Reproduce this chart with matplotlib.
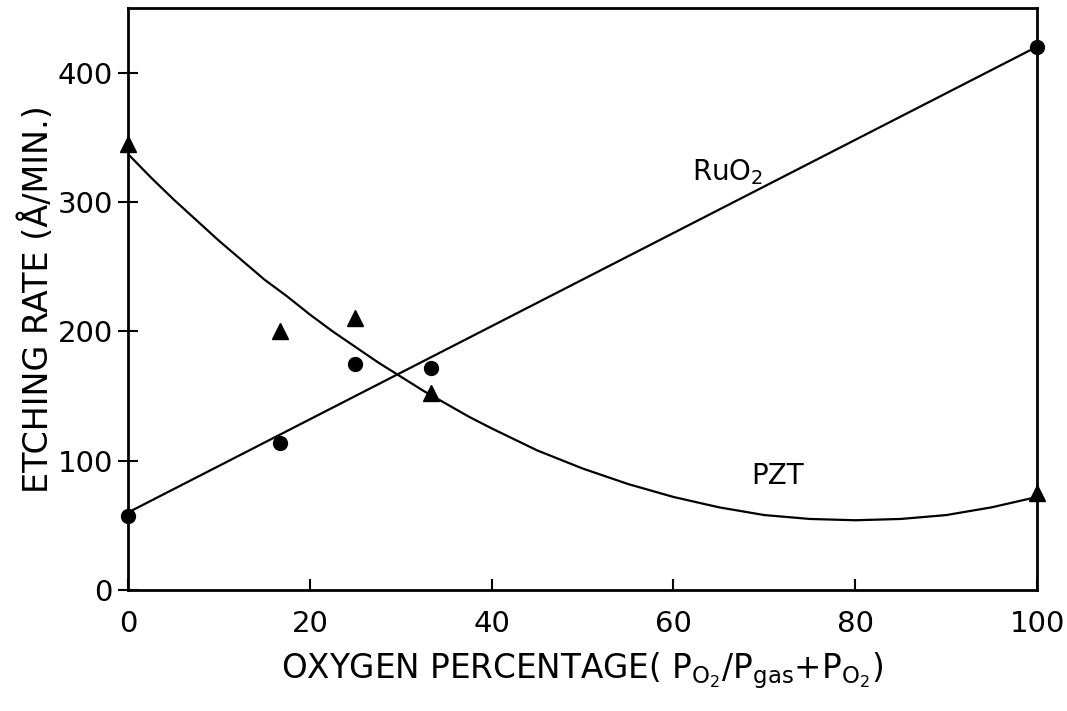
import matplotlib
matplotlib.use("Agg")
import matplotlib.pyplot as plt

# Data
oxygen_pct = [0, 16.7, 25, 33.3, 100]
ruo2_rate = [57, 114, 175, 172, 420]
pzt_rate = [345, 200, 210, 152, 75]

# RuO2 fitted straight line (endpoints)
ruo2_fit_x = [0, 100]
ruo2_fit_y = [60, 420]

# PZT fitted curve
pzt_fit_x = [0, 2.5, 5, 7.5, 10, 12.5, 15, 17.5, 20, 22.5, 25, 27.5, 30, 32.5, 35, 37.5,
             40, 45, 50, 55, 60, 65, 70, 75, 80, 85, 90, 95, 100]
pzt_fit_y = [337, 319, 302, 286, 270, 255, 240, 227, 213, 200, 188, 176, 165, 154, 144, 134,
             125, 108, 94, 82, 72, 64, 58, 55, 54, 55, 58, 64, 72]

x_ticks = [0, 20, 40, 60, 80, 100]
y_ticks = [0, 100, 200, 300, 400]

plt.rcParams['font.family'] = ['DejaVu Sans']
plt.rcParams['mathtext.fontset'] = 'dejavusans'

fig = plt.figure(figsize=(10.67, 7.11), dpi=100)
ax = fig.add_axes([0.12, 0.170, 0.852, 0.819])

ax.plot(ruo2_fit_x, ruo2_fit_y, color='black', lw=1.6, zorder=2)
ax.plot(pzt_fit_x, pzt_fit_y, color='black', lw=1.6, zorder=2)
ax.plot(oxygen_pct, ruo2_rate, 'o', color='black', ms=10, zorder=3, clip_on=False)
ax.plot(oxygen_pct, pzt_rate, '^', color='black', ms=11, zorder=3, clip_on=False)

ax.set_xlim(0, 100)
ax.set_ylim(0, 450)
ax.set_xticks(x_ticks)
ax.set_yticks(y_ticks)
ax.set_xticklabels([str(t) for t in x_ticks], fontsize=21)
ax.set_yticklabels([str(t) for t in y_ticks], fontsize=21)
ax.tick_params(axis='x', direction='in', length=8, width=1.5, pad=14)
ax.tick_params(axis='y', direction='inout', length=14, width=1.5, pad=4)
for s in ax.spines.values():
    s.set_linewidth(2)

ax.text(62, 323, r'RuO$_2$', fontsize=20, va='center', ha='left')
ax.text(68.5, 88, 'PZT', fontsize=20, va='center', ha='left')

ax.set_ylabel('ETCHING RATE (Å/MIN.)', fontsize=24, labelpad=2)
ax.set_xlabel(r'OXYGEN PERCENTAGE( $\mathregular{P_{O_2}/P_{gas}{+}P_{O_2}}$)', fontsize=23.5, labelpad=9)

fig.savefig('out.png', dpi=100)
